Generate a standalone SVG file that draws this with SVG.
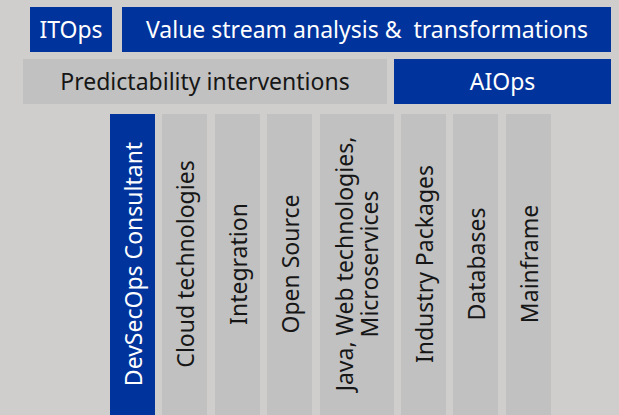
<svg xmlns="http://www.w3.org/2000/svg" width="619" height="415" viewBox="0 0 619 415">
<style>
.blue{fill:#00339c}
.gray{fill:#c1c1c1}
.t{font-family:"Noto Sans","Open Sans",sans-serif;font-size:23px;text-anchor:middle;dominant-baseline:central}
.w{fill:#ffffff}
.k{fill:#161616}
</style>
<rect width="619" height="415" fill="#cfcecd"/>
<g id="itops"><rect class="blue" x="30" y="7" width="82" height="45"/><text class="t w" x="71" y="29">ITOps</text></g>
<g id="value-stream"><rect class="blue" x="122" y="7" width="489" height="45"/><text class="t w" x="367" y="29" xml:space="preserve">Value stream analysis &amp;  transformations</text></g>
<g id="predictability"><rect class="gray" x="23" y="59" width="364" height="45"/><text class="t k" x="205" y="81">Predictability interventions</text></g>
<g id="aiops"><rect class="blue" x="394" y="59" width="217" height="45"/><text class="t w" x="502.5" y="81">AIOps</text></g>
<g id="devsecops"><rect class="blue" x="110" y="114" width="45" height="301"/><text class="t w" transform="translate(132.5,264) rotate(-90)">DevSecOps Consultant</text></g>
<g id="cloud"><rect class="gray" x="162" y="114" width="45" height="301"/><text class="t k" transform="translate(184.5,264) rotate(-90)">Cloud technologies</text></g>
<g id="integration"><rect class="gray" x="215" y="114" width="45" height="301"/><text class="t k" transform="translate(237.5,264) rotate(-90)">Integration</text></g>
<g id="opensource"><rect class="gray" x="267" y="114" width="45" height="301"/><text class="t k" transform="translate(289.5,264) rotate(-90)">Open Source</text></g>
<g id="java"><rect class="gray" x="320" y="114" width="74" height="301"/><text class="t k" transform="translate(356,264) rotate(-90)"><tspan x="0" y="-12.5">Java, Web technologies,</tspan><tspan x="0" y="12.5">Microservices</tspan></text></g>
<g id="industry"><rect class="gray" x="401" y="114" width="45" height="301"/><text class="t k" transform="translate(423.5,264) rotate(-90)">Industry Packages</text></g>
<g id="databases"><rect class="gray" x="453" y="114" width="45" height="301"/><text class="t k" transform="translate(475.5,264) rotate(-90)">Databases</text></g>
<g id="mainframe"><rect class="gray" x="506" y="114" width="45" height="301"/><text class="t k" transform="translate(528.5,264) rotate(-90)">Mainframe</text></g>
<g id="connectors"/>
</svg>
